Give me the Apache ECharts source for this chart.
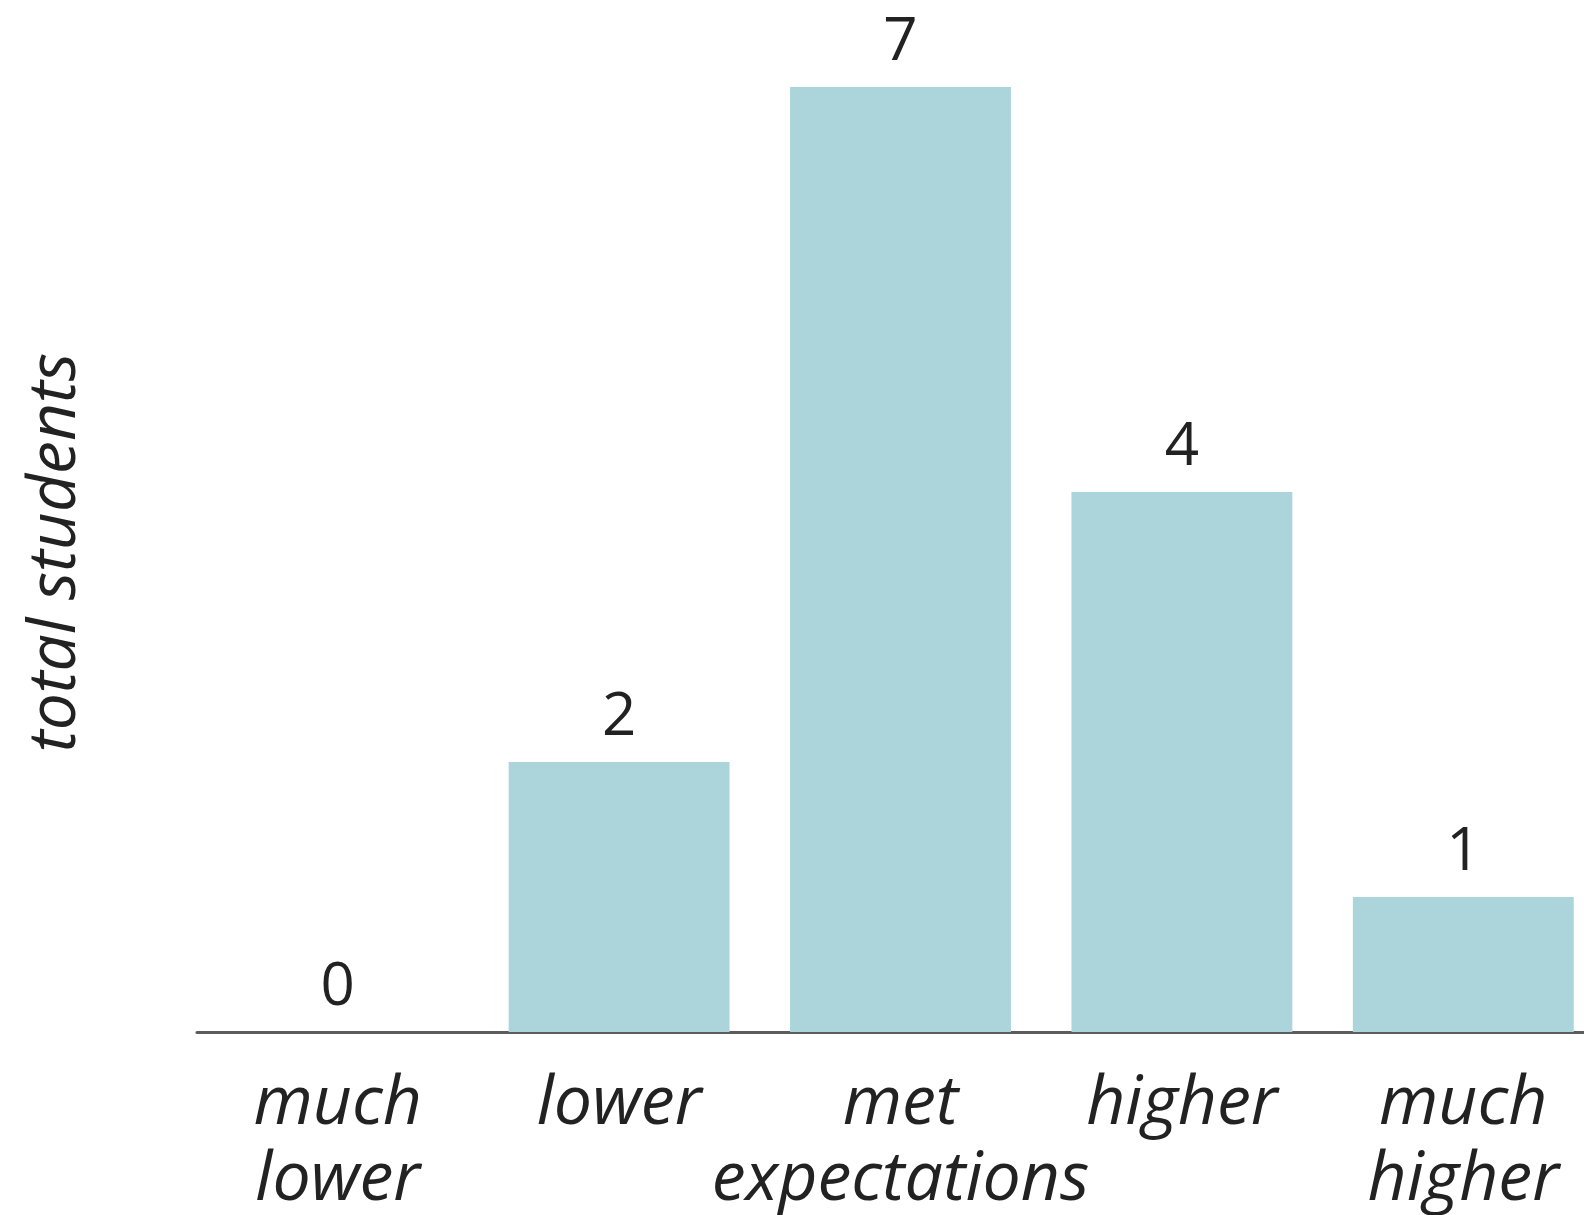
<!DOCTYPE html>
<html>
<head>
<meta charset="utf-8">
<script src="https://cdn.jsdelivr.net/npm/echarts@6/dist/echarts.min.js"></script>
<style>
  html, body { margin: 0; padding: 0; background: #ffffff; }
  #chart { width: 1584px; height: 1215px; }
</style>
</head>
<body>
<div id="chart"></div>
<script>
// Survey responses: how results compared to expectations
const categories = ['much\nlower', 'lower', 'met\nexpectations', 'higher', 'much\nhigher'];
const totals = [0, 2, 7, 4, 1];
const yAxisTitle = 'total students';

const chart = echarts.init(document.getElementById('chart'), null, { renderer: 'canvas' });

chart.setOption({
  animation: false,
  backgroundColor: '#ffffff',
  // plot area runs a little past the right edge so the last bar sits flush
  grid: {
    left: 197, width: 1407, top: 87, bottom: 183,
    containLabel: false,
    outerBoundsMode: 'none'
  },
  xAxis: {
    type: 'category',
    data: categories,
    axisLine: { show: true, lineStyle: { color: '#5c5c5c', width: 3 } },
    axisTick: { show: false },
    axisLabel: {
      interval: 0,
      margin: 35,
      fontFamily: 'Open Sans',
      fontStyle: 'italic',
      fontSize: 68,
      lineHeight: 76,
      color: '#222222'
    }
  },
  yAxis: {
    type: 'value',
    min: 0,
    max: 7,
    interval: 1,
    axisLine: { show: false },
    axisTick: { show: false },
    axisLabel: { show: false },
    splitLine: { show: false },
    name: yAxisTitle,
    nameLocation: 'middle',
    nameGap: 108,
    nameTextStyle: {
      fontFamily: 'Open Sans',
      fontStyle: 'italic',
      fontSize: 66,
      color: '#222222',
      padding: [0, 0, 0, 14]
    }
  },
  series: [{
    type: 'bar',
    data: totals,
    barCategoryGap: '21.5%',
    itemStyle: { color: '#acd5db' },
    label: {
      show: true,
      position: 'top',
      distance: 14,
      fontFamily: 'Open Sans',
      fontSize: 60,
      color: '#222222'
    }
  }]
});
</script>
</body>
</html>
